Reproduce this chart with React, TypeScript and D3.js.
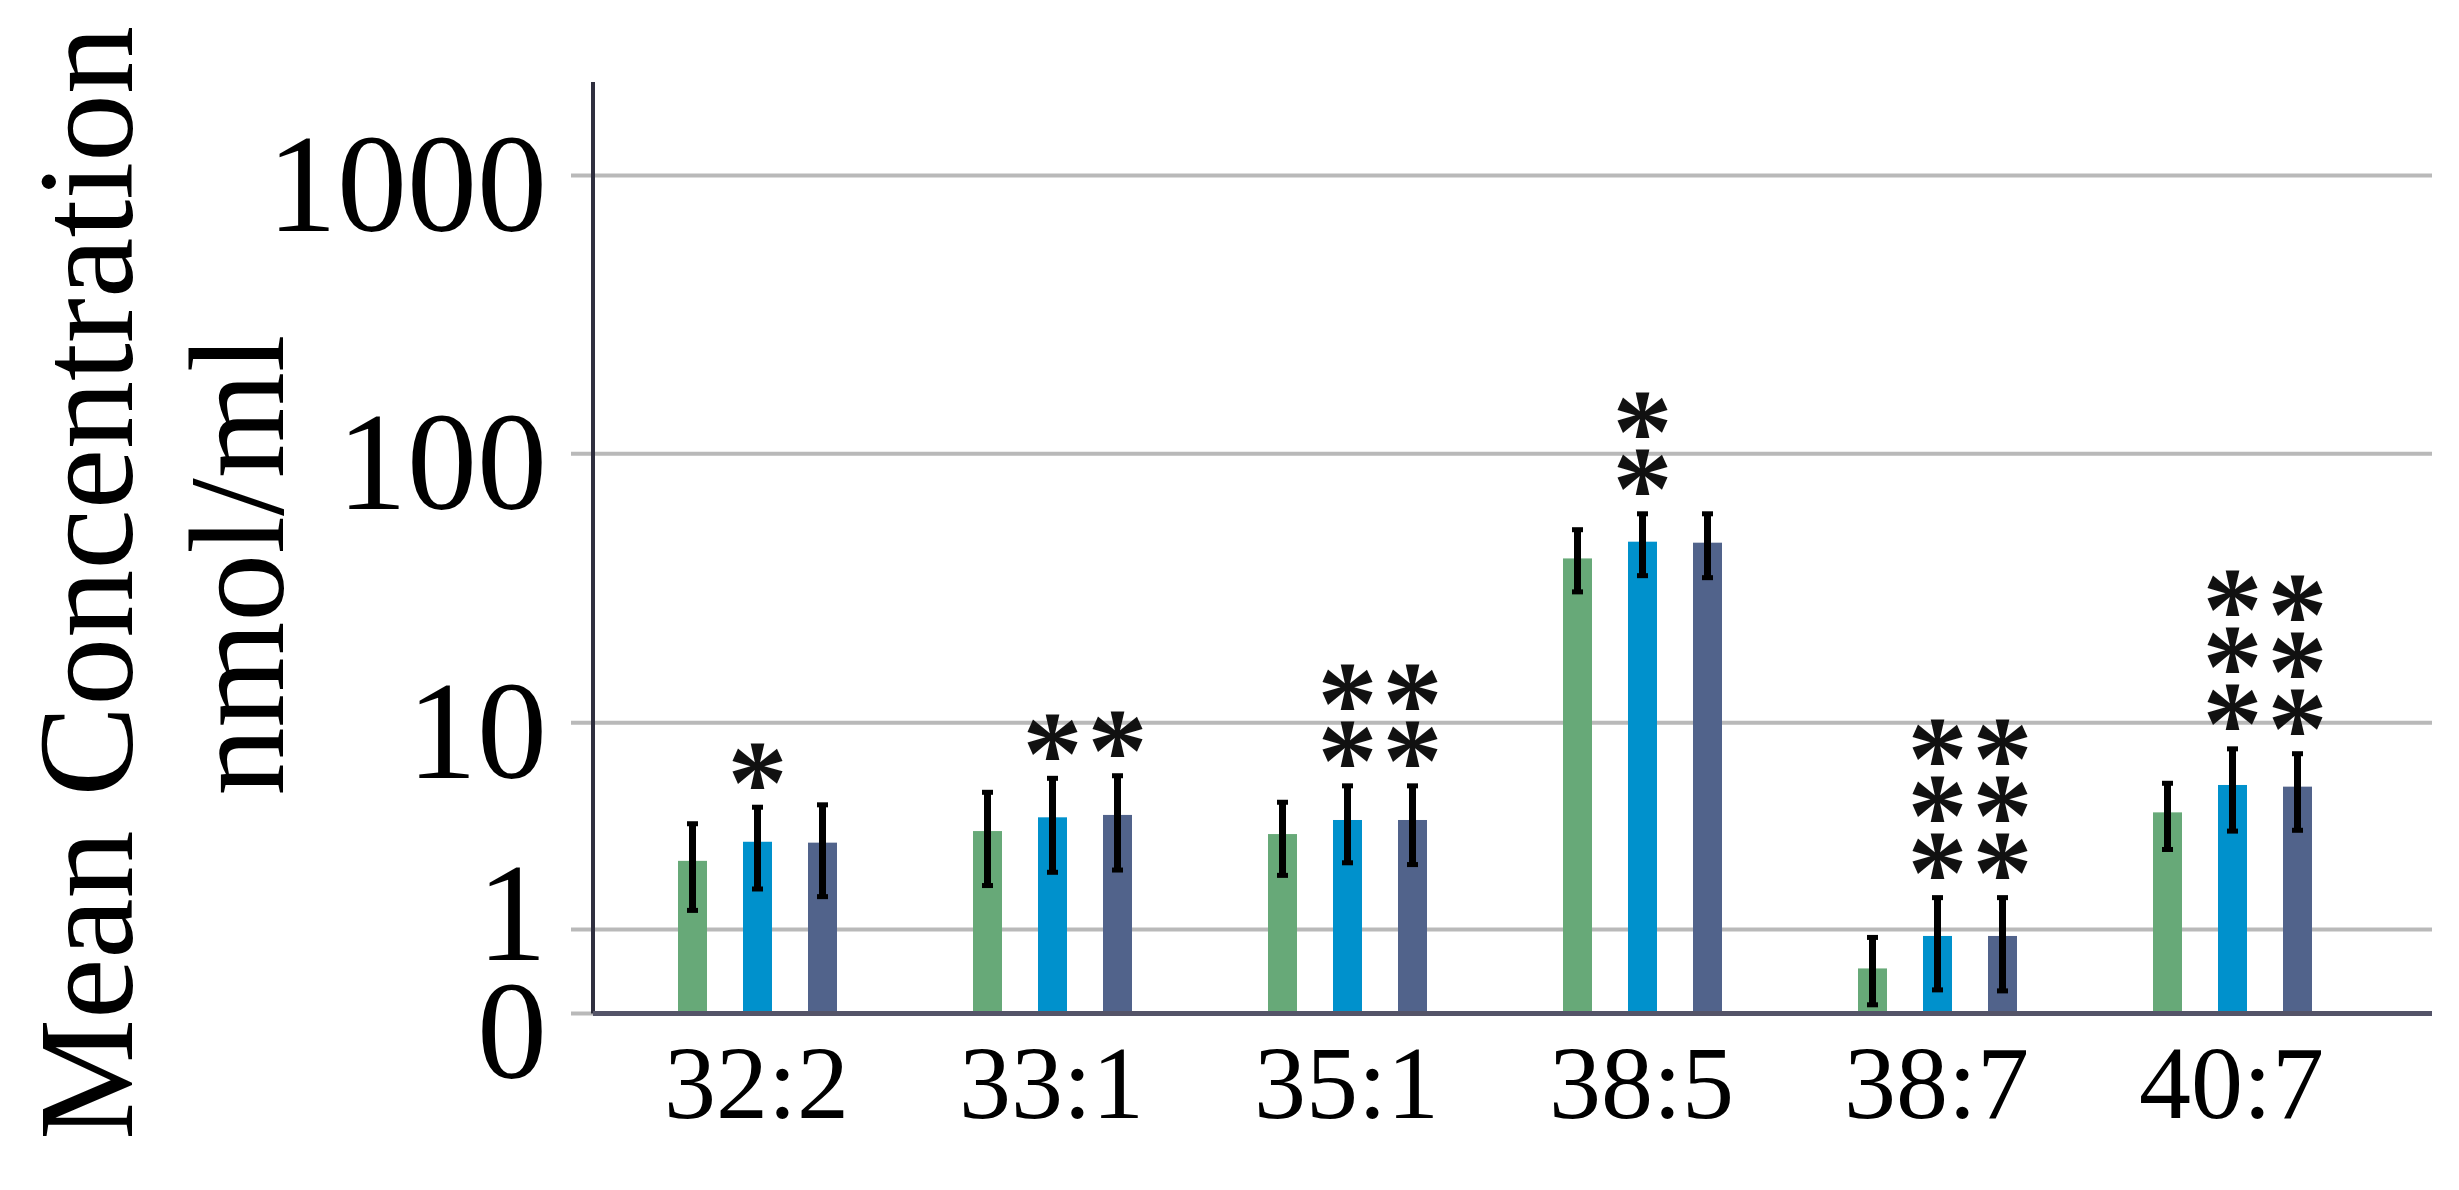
import React from "react";
import * as d3 from "d3";

// ---- data ----
const categories = ["32:2", "33:1", "35:1", "38:5", "38:7", "40:7"];
const seriesNames = ["Group 1", "Group 2", "Group 3"];
const seriesColors = ["#67a978", "#0091cc", "#51638b"];

const meanGroup1 = [2.52, 3.5, 3.39, 41.6, 0.45, 4.25];
const meanGroup2 = [3.12, 4.04, 3.93, 47.9, 0.895, 5.58];
const meanGroup3 = [3.09, 4.14, 3.93, 47.5, 0.895, 5.49];

const upperGroup1 = [3.8, 5.22, 4.73, 53.2, 0.88, 5.7];
const upperGroup2 = [4.5, 5.98, 5.56, 60.8, 1.61, 7.9];
const upperGroup3 = [4.61, 6.13, 5.56, 60.8, 1.61, 7.55];

const lowerGroup1 = [1.33, 1.86, 2.11, 31.2, 0.07, 2.85];
const lowerGroup2 = [1.78, 2.19, 2.45, 35.8, 0.21, 3.48];
const lowerGroup3 = [1.61, 2.25, 2.4, 35.2, 0.2, 3.51];

const starsGroup1 = [0, 0, 0, 0, 0, 0];
const starsGroup2 = [1, 1, 2, 2, 3, 3];
const starsGroup3 = [0, 1, 2, 0, 3, 3];

const yTicks = [0, 1, 10, 100, 1000];
const yTitleLine1 = "Mean Concentration";
const yTitleLine2 = "nmol/ml";

const means = [meanGroup1, meanGroup2, meanGroup3];
const uppers = [upperGroup1, upperGroup2, upperGroup3];
const lowers = [lowerGroup1, lowerGroup2, lowerGroup3];
const starCounts = [starsGroup1, starsGroup2, starsGroup3];

// ---- layout ----
const W = 2459;
const H = 1190;
const axisX = 593;
const plotRight = 2432;
const axisTop = 82;
const gridStart = 571;
const barW = 29;
const FONT = "'Liberation Serif', 'Times New Roman', Times, serif";
const yLabelFs = 140;
const minLabelGap = 118;

export default function App() {
  const y = d3.scaleSymlog().constant(1).domain([0, 1000]).range([1013.5, 175.5]);
  const x0 = d3.scaleBand<string>().domain(categories).range([609, 2379]).padding(0);
  const x1 = d3.scalePoint<string>().domain(seriesNames).range([-64, 66]);

  const center = (c: string) => (x0(c) as number) + x0.bandwidth() / 2;

  // y label centres: slightly below each tick, spread apart where they would collide
  const labelCenters = yTicks.map((t) => y(t) + 8);
  for (let i = 0; i < yTicks.length - 1; i++) {
    const a = y(yTicks[i]);
    const b = y(yTicks[i + 1]);
    if (Math.abs(a - b) < minLabelGap) {
      const mid = (a + b) / 2;
      labelCenters[i] = mid + minLabelGap / 2;
      labelCenters[i + 1] = mid - minLabelGap / 2;
    }
  }

  const starFs = 120;
  const starGap = 38;
  const starStep = 57;

  return (
    <svg
      width={W}
      height={H}
      style={{ position: "absolute", left: 0, top: 0, display: "block", background: "#fff" }}
      fontFamily={FONT}
    >
      <rect x={0} y={0} width={W} height={H} fill="#fff" />
      {/* grid */}
      {yTicks.map((t) => (
        <line
          key={"g" + t}
          x1={gridStart}
          x2={t === 0 ? axisX : plotRight}
          y1={y(t)}
          y2={y(t)}
          stroke="#b9b9b9"
          strokeWidth={4}
        />
      ))}
      {/* y tick labels */}
      {yTicks.map((t, i) => (
        <text
          key={"yl" + t}
          x={547}
          y={labelCenters[i] + 0.338 * yLabelFs}
          textAnchor="end"
          fontSize={yLabelFs}
          fill="#000"
        >
          {String(t)}
        </text>
      ))}
      {/* bars */}
      {categories.map((c, ci) =>
        seriesNames.map((s, si) => {
          const cx = center(c) + (x1(s) as number);
          const v = means[si][ci];
          return (
            <rect
              key={c + s}
              x={cx - barW / 2}
              y={y(v)}
              width={barW}
              height={y(0) - y(v)}
              fill={seriesColors[si]}
            />
          );
        })
      )}
      {/* axes */}
      <line x1={axisX} x2={axisX} y1={axisTop} y2={y(0)} stroke="#2f2f3f" strokeWidth={4} />
      <line x1={axisX} x2={plotRight} y1={y(0)} y2={y(0)} stroke="#545468" strokeWidth={5} />
      {/* error bars */}
      {categories.map((c, ci) =>
        seriesNames.map((s, si) => {
          const cx = center(c) + (x1(s) as number);
          const hi = y(uppers[si][ci]);
          const lo = y(lowers[si][ci]);
          return (
            <g key={"e" + c + s}>
              <line x1={cx} x2={cx} y1={hi} y2={lo} stroke="#000" strokeWidth={7} />
              <rect x={cx - 5.5} y={hi - 2} width={11} height={5} fill="#000" />
              <rect x={cx - 5.5} y={lo - 3} width={11} height={5} fill="#000" />
            </g>
          );
        })
      )}
      {/* significance stars: one text per column, rows as tspans */}
      {categories.map((c, ci) =>
        seriesNames.map((s, si) => {
          const n = starCounts[si][ci];
          if (n === 0) return null;
          const cx = center(c) + (x1(s) as number);
          const bottom = y(uppers[si][ci]) - starGap + 0.45 * starFs;
          const top = bottom - (n - 1) * starStep;
          return (
            <text
              key={"s" + c + s}
              textAnchor="middle"
              fontSize={starFs}
              fontWeight="bold"
              fill="#111"
            >
              {d3.range(n).map((k) => (
                <tspan key={k} x={cx} y={top + k * starStep}>
                  *
                </tspan>
              ))}
            </text>
          );
        })
      )}
      {/* x labels */}
      {categories.map((c) => (
        <text key={"xl" + c} x={center(c)} y={1118} textAnchor="middle" fontSize={104} fill="#000">
          {c}
        </text>
      ))}
      {/* y title */}
      <text transform={`translate(132,583) rotate(-90)`} textAnchor="middle" fontSize={136} fill="#000">
        {yTitleLine1}
      </text>
      <text transform={`translate(283,565) rotate(-90)`} textAnchor="middle" fontSize={136} fill="#000">
        {yTitleLine2}
      </text>
    </svg>
  );
}
